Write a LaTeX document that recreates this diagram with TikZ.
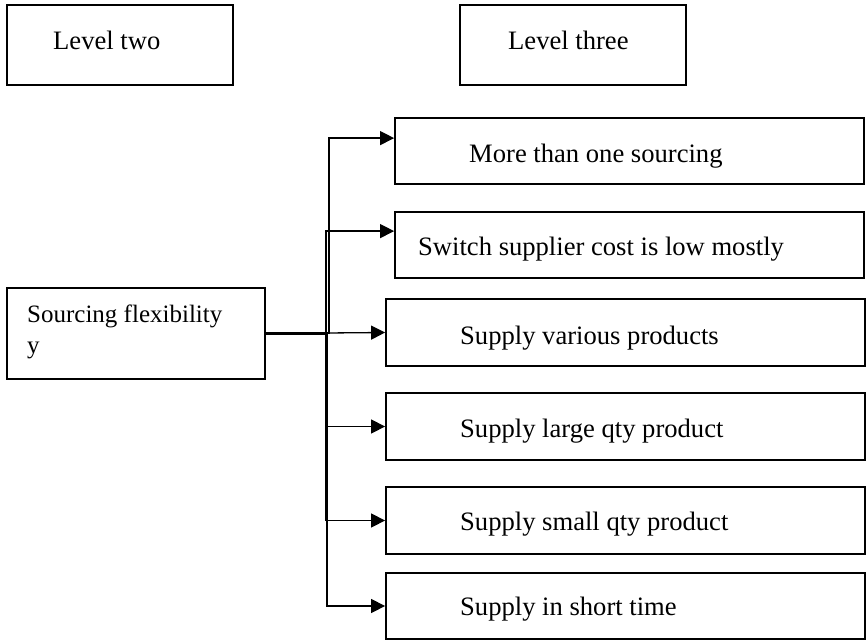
\documentclass[tikz,border=0pt]{standalone}
\usepackage{fontspec}
\setmainfont{Liberation Serif}
\usetikzlibrary{arrows.meta,calc}

\tikzset{
  boxnode/.style={draw=black, line width=1.8pt, fill=none, inner sep=0pt},
  lbl/.style={anchor=base west, inner sep=0pt, font=\fontsize{26.6}{31}\selectfont},
  lblsmall/.style={lbl, font=\fontsize{25}{31}\selectfont},
  conn/.style={draw=black, line width=1.3pt, -{Triangle[length=14pt,width=14pt]}},
  trunk/.style={draw=black, line width=3pt}
}

\begin{document}
\begin{tikzpicture}[x=1pt,y=-1pt]
\useasboundingbox (0,0) rectangle (867,642);

% level headers
\node[boxnode, minimum width=226pt, minimum height=80pt] (lvtwo) at (120,45) {};
\node[boxnode, minimum width=226pt, minimum height=80pt] (lvthree) at (573,45) {};
\node[lbl] (tlvtwo) at (53,50) {Level two};
\node[lbl] (tlvthree) at (508,50) {Level three};

% level two item
\node[boxnode, minimum width=258pt, minimum height=91pt] (sf) at (136,333.5) {};
\node[lblsmall] (tsf) at (27,322) {Sourcing flexibility};
\node[lblsmall] (tsfy) at (27,353) {y};

% level three items
\node[boxnode, minimum width=469pt, minimum height=66pt] (b1) at (629.5,151) {};
\node[boxnode, minimum width=469pt, minimum height=66pt] (b2) at (629.5,245) {};
\node[boxnode, minimum width=479pt, minimum height=67pt] (b3) at (625.5,332.5) {};
\node[boxnode, minimum width=479pt, minimum height=67pt] (b4) at (625.5,426.5) {};
\node[boxnode, minimum width=479pt, minimum height=67pt] (b5) at (625.5,520.5) {};
\node[boxnode, minimum width=479pt, minimum height=66pt] (b6) at (625.5,606) {};

\node[lbl] (t1) at (469,162) {More than one sourcing};
\node[lbl] (t2) at (418,255) {Switch supplier cost is low mostly};
\node[lbl] (t3) at (460,344) {Supply various products};
\node[lbl] (t4) at (460,437) {Supply large qty product};
\node[lbl] (t5) at (460,530) {Supply small qty product};
\node[lbl] (t6) at (460,615) {Supply in short time};

% heavier shared trunk
\draw[trunk] (sf.east) -- ++(61,0) coordinate (hub) -- (hub |- b5.west);

% elbow connectors
\draw[conn] (sf.east) -- ++(63,0) |- ($(b1.north west)+(0,21)$);
\draw[conn] (sf.east) -- ++(60,0) |- ($(b2.north west)+(0,20)$);
\draw[conn] (sf.east) -- (b3.west);
\draw[conn] (sf.east) -- ++(61,0) |- (b4.west);
\draw[conn] (sf.east) -- ++(61,0) |- (b5.west);
\draw[conn] (sf.east) -- ++(61,0) |- (b6.west);
\end{tikzpicture}
\end{document}
